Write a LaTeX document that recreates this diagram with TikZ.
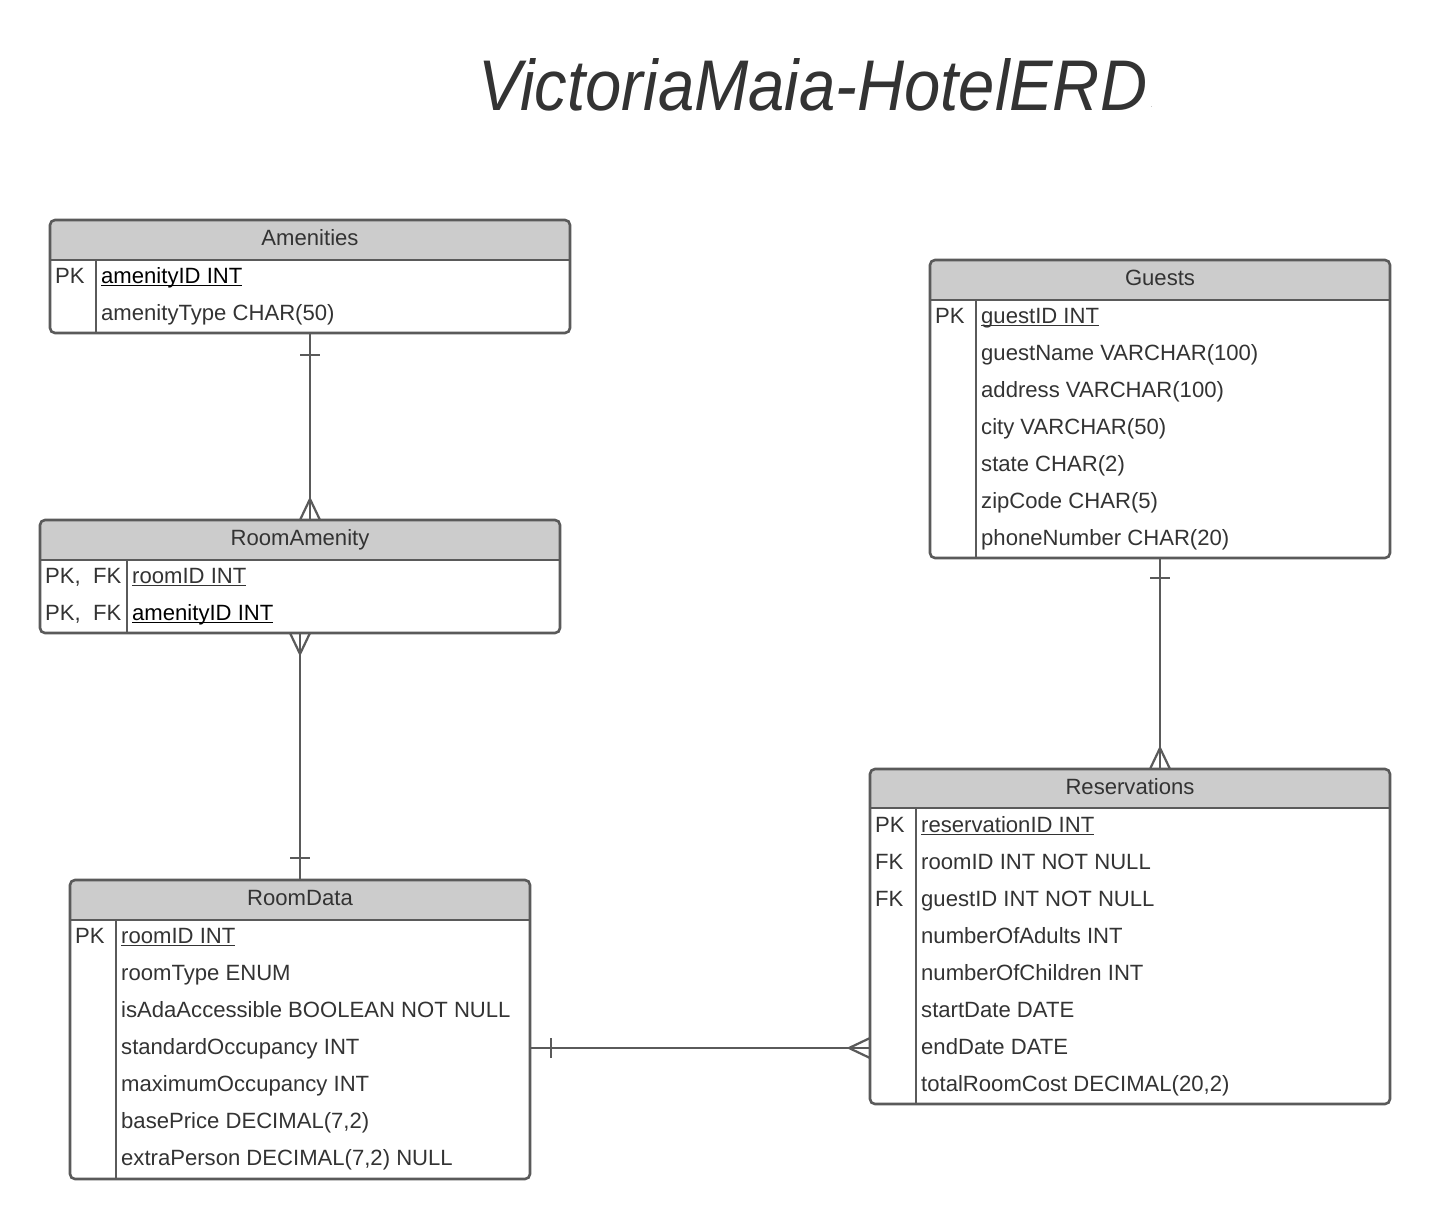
\documentclass[tikz,border=0pt]{standalone}
\usepackage{fontspec}
\setmainfont{Liberation Sans}
\usetikzlibrary{calc}
\definecolor{ln}{HTML}{5A5A5A}
\definecolor{hdr}{HTML}{CCCCCC}
\definecolor{txt}{HTML}{333333}
\newcommand\erdfont{\fontsize{22.1}{26}\selectfont}
\newcommand\keyul[1]{\setbox0\hbox{#1}\rlap{\rule[-3pt]{\wd0}{1.3pt}}\box0}
\tikzset{
  tblbox/.style={draw=ln, line width=2.6pt, rounded corners=5pt, inner sep=0pt, outer sep=0pt, anchor=north west},
  hdrtxt/.style={anchor=base, text=txt, font=\erdfont, inner sep=0pt},
  rowtxt/.style={anchor=base west, text=txt, font=\erdfont, inner sep=0pt},
  conn/.style={draw=ln, line width=2.2pt},
}
% #1 name #2 x1 #3 y1 #4 x2 #5 y2 #6 header bottom #7 divider x #8 title
\newcommand\erdtable[8]{%
  \begin{scope}
    \clip (#2,#3) rectangle (#4,#6);
    \fill[hdr, rounded corners=5pt] (#2,#3) rectangle (#4,#5);
  \end{scope}
  \draw[ln, line width=2.6pt] (#2,#6) -- (#4,#6);
  \draw[ln, line width=2pt] (#7,#6) -- (#7,#5);
  \node[tblbox, minimum width={(#4-#2)*1pt}, minimum height={(#5-#3)*1pt}] (#1) at (#2,#3) {};
  \node[hdrtxt] (#1-title) at ({(#2+#4)/2},#3+25) {#8};
}
\begin{document}
\begin{tikzpicture}[x=1pt,y=-1pt]
\useasboundingbox[fill=white] (0,0) rectangle (1430,1219);

% Title
\node[anchor=base west, inner sep=0pt, text=txt] (title) at (478,110)
  {\resizebox{669pt}{52pt}{\itshape VictoriaMaia-HotelERD}};
\node[anchor=base west, inner sep=0pt, text=txt, font=\fontsize{5}{5}\selectfont] (titledot) at (1151,107) {.};

% Amenities
\erdtable{am}{50}{220}{570}{333}{260}{96}{Amenities}
\node[rowtxt] (am-k1) at (55,283) {PK};
\node[rowtxt, text=black] (am-f1) at (101,283) {\keyul{amenityID INT}};
\node[rowtxt] (am-f2) at (101,320) {amenityType CHAR(50)};

% RoomAmenity
\erdtable{ra}{40}{520}{560}{633}{560}{127}{RoomAmenity}
\node[rowtxt] (ra-k1) at (45,583) {PK,\ \ FK};
\node[rowtxt] (ra-f1) at (132,583) {\keyul{roomID INT}};
\node[rowtxt] (ra-k2) at (45,620) {PK,\ \ FK};
\node[rowtxt, text=black] (ra-f2) at (132,620) {\keyul{amenityID INT}};

% Guests
\erdtable{gu}{930}{260}{1390}{558}{300}{976}{Guests}
\node[rowtxt] (gu-k1) at (935,323) {PK};
\node[rowtxt] (gu-f1) at (981,323) {\keyul{guestID INT}};
\node[rowtxt] (gu-f2) at (981,360) {guestName VARCHAR(100)};
\node[rowtxt] (gu-f3) at (981,397) {address VARCHAR(100)};
\node[rowtxt] (gu-f4) at (981,434) {city VARCHAR(50)};
\node[rowtxt] (gu-f5) at (981,471) {state CHAR(2)};
\node[rowtxt] (gu-f6) at (981,508) {zipCode CHAR(5)};
\node[rowtxt] (gu-f7) at (981,545) {phoneNumber CHAR(20)};

% Reservations
\erdtable{re}{870}{769}{1390}{1104}{808}{916}{Reservations}
\node[rowtxt] (re-k1) at (875,832) {PK};
\node[rowtxt] (re-f1) at (921,832) {\keyul{reservationID INT}};
\node[rowtxt] (re-k2) at (875,869) {FK};
\node[rowtxt] (re-f2) at (921,869) {roomID INT NOT NULL};
\node[rowtxt] (re-k3) at (875,906) {FK};
\node[rowtxt] (re-f3) at (921,906) {guestID INT NOT NULL};
\node[rowtxt] (re-f4) at (921,943) {numberOfAdults INT};
\node[rowtxt] (re-f5) at (921,980) {numberOfChildren INT};
\node[rowtxt] (re-f6) at (921,1017) {startDate DATE};
\node[rowtxt] (re-f7) at (921,1054) {endDate DATE};
\node[rowtxt] (re-f8) at (921,1091) {totalRoomCost DECIMAL(20,2)};

% RoomData
\erdtable{rd}{70}{880}{530}{1179}{920}{116}{RoomData}
\node[rowtxt] (rd-k1) at (75,943) {PK};
\node[rowtxt] (rd-f1) at (121,943) {\keyul{roomID INT}};
\node[rowtxt] (rd-f2) at (121,980) {roomType ENUM};
\node[rowtxt] (rd-f3) at (121,1017) {isAdaAccessible BOOLEAN NOT NULL};
\node[rowtxt] (rd-f4) at (121,1054) {standardOccupancy INT};
\node[rowtxt] (rd-f5) at (121,1091) {maximumOccupancy INT};
\node[rowtxt] (rd-f6) at (121,1128) {basePrice DECIMAL(7,2)};
\node[rowtxt] (rd-f7) at (121,1165) {extraPerson DECIMAL(7,2) NULL};

% Amenities (one) -- RoomAmenity (many)
\coordinate (raTop) at (am.south |- ra.north);
\draw[conn] (am.south) -- (raTop);
\draw[conn] ([shift={(-10pt,-22pt)}]am.south) -- ([shift={(10pt,-22pt)}]am.south);
\draw[conn] ([xshift=-10pt]raTop) -- ([yshift=21pt]raTop) -- ([xshift=10pt]raTop);

% RoomAmenity (many) -- RoomData (one)
\draw[conn] (ra.south) -- (rd.north);
\draw[conn] ([xshift=-10pt]ra.south) -- ([yshift=-21pt]ra.south) -- ([xshift=10pt]ra.south);
\draw[conn] ([shift={(-10pt,22pt)}]rd.north) -- ([shift={(10pt,22pt)}]rd.north);

% Guests (one) -- Reservations (many)
\coordinate (reTop) at (gu.south |- re.north);
\draw[conn] (gu.south) -- (reTop);
\draw[conn] ([shift={(-10pt,-20pt)}]gu.south) -- ([shift={(10pt,-20pt)}]gu.south);
\draw[conn] ([xshift=-10pt]reTop) -- ([yshift=21pt]reTop) -- ([xshift=10pt]reTop);

% RoomData (one) -- Reservations (many)
\coordinate (rdR) at ([yshift=-18.5pt]rd.east);
\coordinate (reL) at (rdR -| re.west);
\draw[conn] (rdR) -- (reL);
\draw[conn] ([shift={(21pt,-10pt)}]rdR) -- ([shift={(21pt,10pt)}]rdR);
\draw[conn] ([yshift=10pt]reL) -- ([xshift=-21pt]reL) -- ([yshift=-10pt]reL);
\end{tikzpicture}
\end{document}
